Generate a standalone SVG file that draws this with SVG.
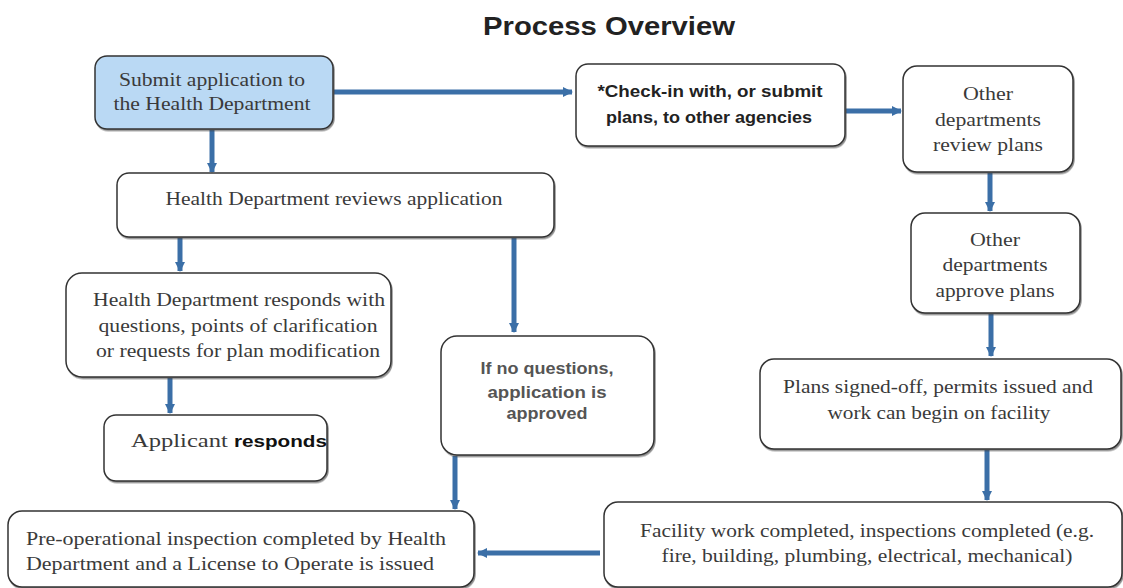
<svg xmlns="http://www.w3.org/2000/svg" width="1123" height="588" viewBox="0 0 1123 588">
<style>
.box{fill:#fff;stroke:#333;stroke-width:1.5;filter:url(#sh)}
.blue{fill:#bad9f4}
.t{font-family:"Liberation Serif","Times New Roman",serif;font-size:19px;fill:#3a3a3a;text-anchor:middle}
.s{font-family:"Liberation Sans",Arial,sans-serif;font-size:16px;font-weight:bold;fill:#222;text-anchor:middle}
.g{fill:#555}
.title{font-family:"Liberation Sans",Arial,sans-serif;font-size:25px;font-weight:bold;fill:#222;text-anchor:middle}
.c{stroke:#3b6fa7;stroke-width:5;fill:none;marker-end:url(#ah)}
</style>
<defs>
<marker id="ah" viewBox="0 0 10 10" refX="9" refY="5" markerWidth="2" markerHeight="2.2" orient="auto" markerUnits="strokeWidth">
<path d="M0,0 L10,5 L0,10 z" fill="#3b6fa7"/>
</marker>
<filter id="sh" x="-5%" y="-5%" width="110%" height="115%">
<feDropShadow dx="1" dy="1.5" stdDeviation="0.7" flood-color="#444" flood-opacity="0.6"/>
</filter>
</defs>
<rect width="1123" height="588" fill="#fff"/>
<text class="title" x="609" y="35" textLength="252" lengthAdjust="spacingAndGlyphs">Process Overview</text>
<g id="connectors">
<line class="c" x1="334" y1="92" x2="572" y2="92"/>
<line class="c" x1="212" y1="130" x2="212" y2="172"/>
<line class="c" x1="846" y1="111" x2="901" y2="111"/>
<line class="c" x1="180" y1="238" x2="180" y2="271"/>
<line class="c" x1="514" y1="238" x2="514" y2="332"/>
<line class="c" x1="990" y1="173" x2="990" y2="211"/>
<line class="c" x1="991" y1="314" x2="991" y2="356"/>
<line class="c" x1="170" y1="378" x2="170" y2="413"/>
<line class="c" x1="455" y1="456" x2="455" y2="509"/>
<line class="c" x1="987" y1="450" x2="987" y2="500"/>
<line class="c" x1="600" y1="553" x2="478" y2="553"/>
</g>
<g id="n1"><rect class="box blue" x="95" y="56" width="238" height="73" rx="12"/>
<text class="t" x="212" y="86" textLength="186" lengthAdjust="spacingAndGlyphs">Submit application to</text><text class="t" x="212" y="110" textLength="197" lengthAdjust="spacingAndGlyphs">the Health Department</text></g>
<g id="n2"><rect class="box" x="576" y="64" width="269" height="82" rx="12"/>
<text class="s" x="710" y="97" textLength="225" lengthAdjust="spacingAndGlyphs">*Check-in with, or submit</text><text class="s" x="709" y="123" textLength="206" lengthAdjust="spacingAndGlyphs">plans, to other agencies</text></g>
<g id="n3"><rect class="box" x="903" y="66" width="170" height="106" rx="14"/>
<text class="t" x="988" y="100" textLength="50" lengthAdjust="spacingAndGlyphs">Other</text><text class="t" x="988" y="126" textLength="106" lengthAdjust="spacingAndGlyphs">departments</text><text class="t" x="988" y="151" textLength="110" lengthAdjust="spacingAndGlyphs">review plans</text></g>
<g id="n4"><rect class="box" x="117" y="173" width="437" height="64" rx="12"/>
<text class="t" x="334" y="205" textLength="337" lengthAdjust="spacingAndGlyphs">Health Department reviews application</text></g>
<g id="n5"><rect class="box" x="911" y="213" width="169" height="100" rx="14"/>
<text class="t" x="995" y="246" textLength="50" lengthAdjust="spacingAndGlyphs">Other</text><text class="t" x="995" y="271" textLength="105" lengthAdjust="spacingAndGlyphs">departments</text><text class="t" x="995" y="297" textLength="119" lengthAdjust="spacingAndGlyphs">approve plans</text></g>
<g id="n6"><rect class="box" x="66" y="273" width="325" height="104" rx="16"/>
<text class="t" x="239" y="306" textLength="292" lengthAdjust="spacingAndGlyphs">Health Department responds with</text><text class="t" x="238" y="332" textLength="279" lengthAdjust="spacingAndGlyphs">questions, points of clarification</text><text class="t" x="238" y="357" textLength="284" lengthAdjust="spacingAndGlyphs">or requests for plan modification</text></g>
<g id="n7"><rect class="box" x="441" y="336" width="213" height="119" rx="16"/>
<text class="s g" x="547" y="374" textLength="133" lengthAdjust="spacingAndGlyphs">If no questions,</text><text class="s g" x="547" y="398" textLength="119" lengthAdjust="spacingAndGlyphs">application is</text><text class="s g" x="547" y="419" textLength="81" lengthAdjust="spacingAndGlyphs">approved</text></g>
<g id="n8"><rect class="box" x="760" y="359" width="361" height="90" rx="14"/>
<text class="t" x="938" y="393" textLength="310" lengthAdjust="spacingAndGlyphs">Plans signed-off, permits issued and</text><text class="t" x="939" y="419" textLength="223" lengthAdjust="spacingAndGlyphs">work can begin on facility</text></g>
<g id="n9"><rect class="box" x="104" y="415" width="223" height="66" rx="12"/>
<text class="t" x="229" y="447" textLength="196" lengthAdjust="spacingAndGlyphs">Applicant <tspan style="font-family:'Liberation Sans',Arial,sans-serif;font-weight:bold;font-size:16px;fill:#111">responds</tspan></text></g>
<g id="n10"><rect class="box" x="8" y="511" width="466" height="76" rx="14"/>
<text class="t" x="236" y="545" textLength="420" lengthAdjust="spacingAndGlyphs">Pre-operational inspection completed by Health</text><text class="t" x="230" y="570" textLength="408" lengthAdjust="spacingAndGlyphs">Department and a License to Operate is issued</text></g>
<g id="n11"><rect class="box" x="604" y="502" width="518" height="85" rx="14"/>
<text class="t" x="867" y="537" textLength="454" lengthAdjust="spacingAndGlyphs">Facility work completed, inspections completed (e.g.</text><text class="t" x="867" y="562" textLength="411" lengthAdjust="spacingAndGlyphs">fire, building, plumbing, electrical, mechanical)</text></g>
</svg>
